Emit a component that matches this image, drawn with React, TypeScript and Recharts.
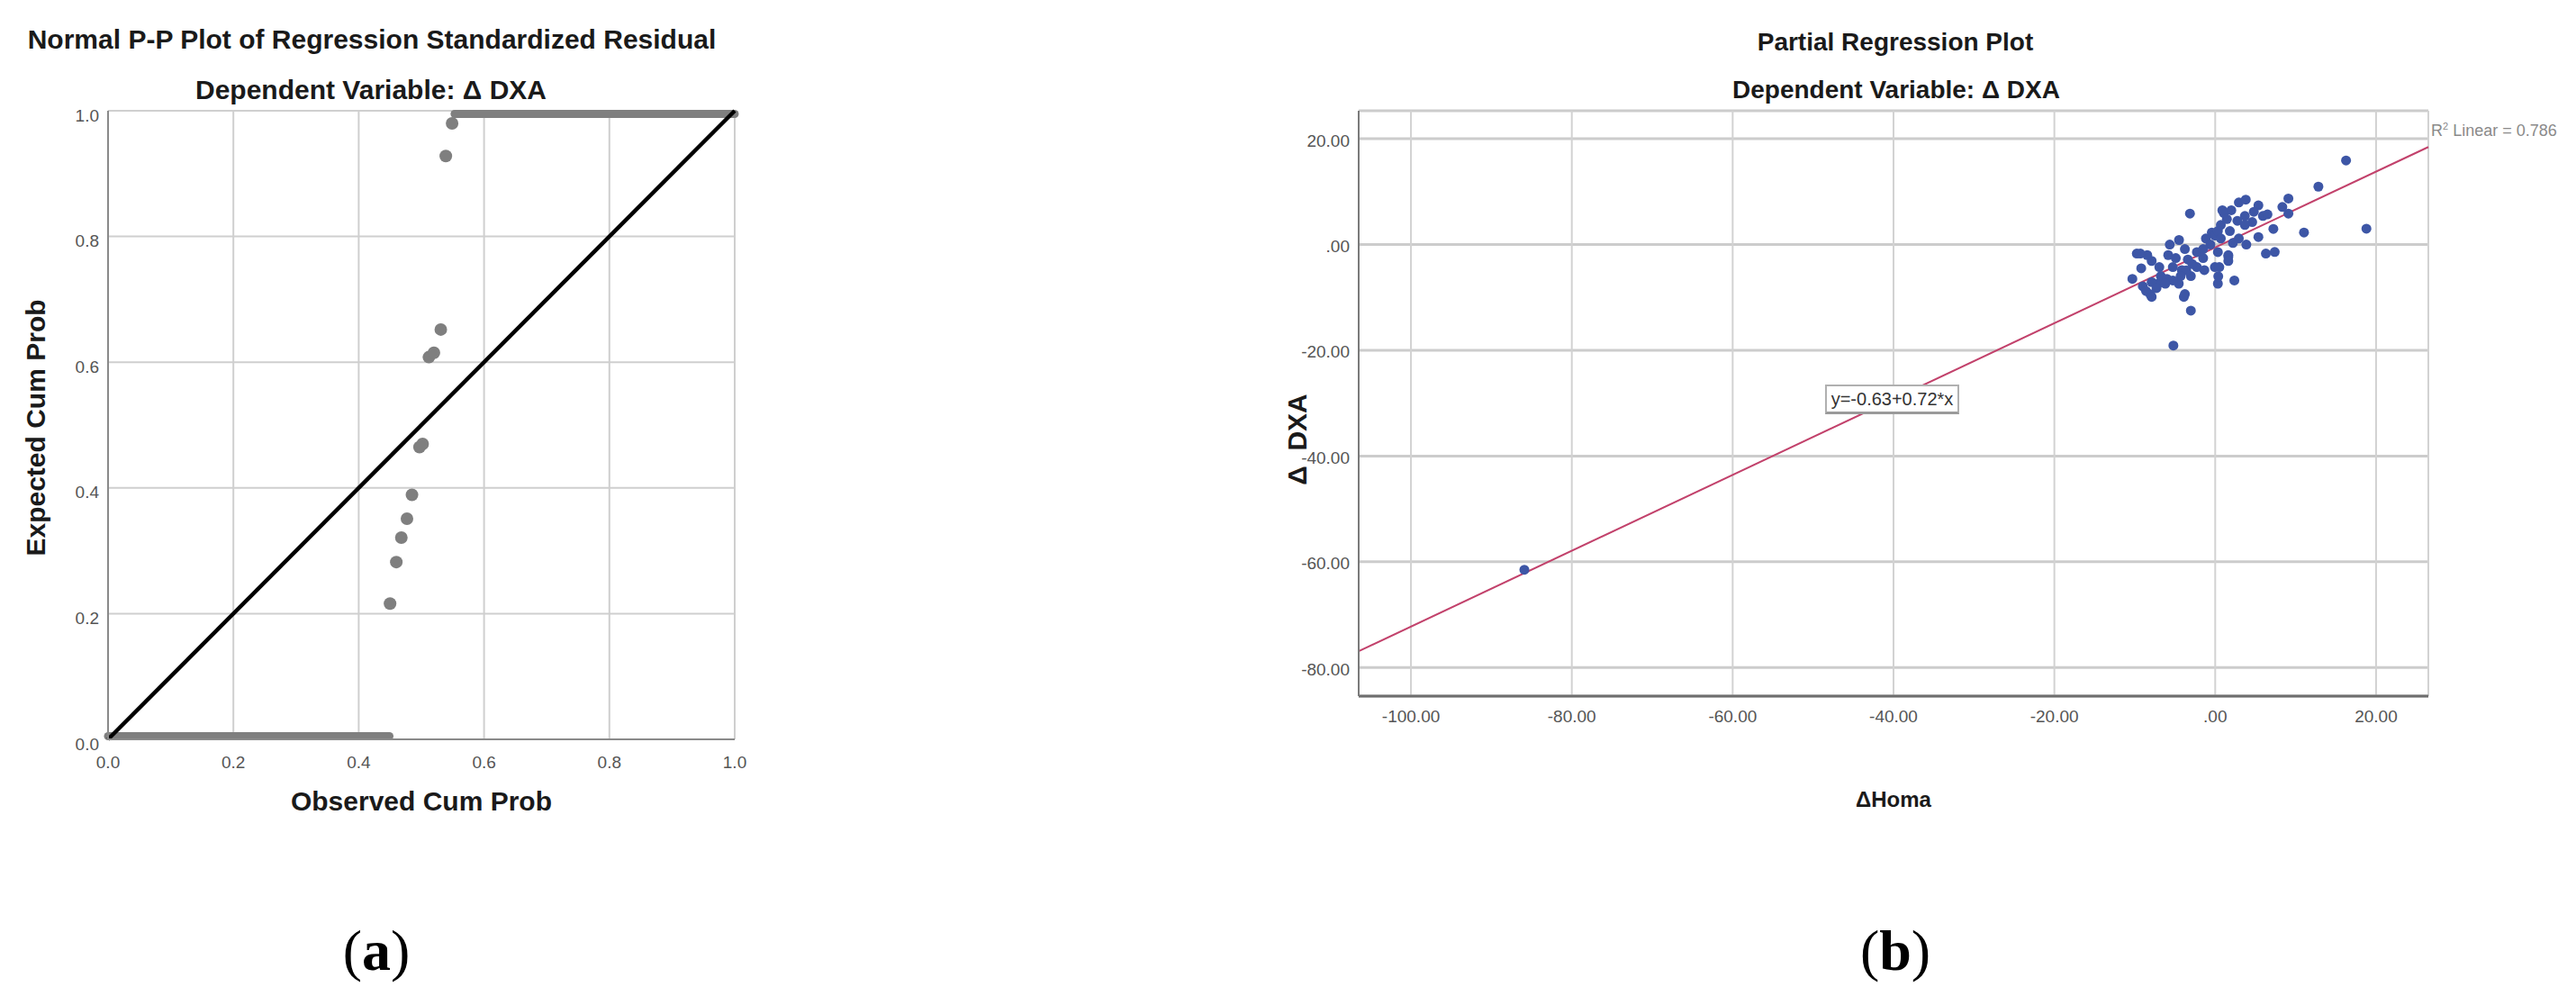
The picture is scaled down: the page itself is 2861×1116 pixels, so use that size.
import React from 'react';
import { CartesianGrid, ComposedChart, ReferenceLine, Scatter, XAxis, YAxis } from 'recharts';

const SANS = '"Liberation Sans", Arial, sans-serif';
const SERIF = '"Liberation Serif", "Times New Roman", serif';

// (a) Normal P-P plot: observed vs expected cumulative probability
const ppTicks = [0, 0.2, 0.4, 0.6, 0.8, 1.0];
const ppObserved = [0.45, 0.46, 0.468, 0.477, 0.485, 0.497, 0.502, 0.512, 0.52, 0.531, 0.539, 0.549];
const ppExpected = [0.216, 0.282, 0.321, 0.351, 0.389, 0.465, 0.47, 0.608, 0.615, 0.652, 0.928, 0.98];
// densely overlapping points that read as a thick band along 0 and 1
const bandLowObserved = [0, 0.449];
const bandLowExpected = [0.005, 0.005];
const bandHighObserved = [0.553, 1.0];
const bandHighExpected = [0.995, 0.995];

// (b) Partial regression plot: ΔHoma vs Δ DXA
const homaTicks = [-100, -80, -60, -40, -20, 0, 20];
const dxaTicks = [-80, -60, -40, -20, 0, 20];
const homaChange = [
  -85.9, -5.2, -3.14, -9.75, -8.45, -7.9, -9.2, -10.3, -9.0, -8.07, -7.1, -5.65, -4.5, -3.77, -5.84,
  -4.9, -3.4, -2.28, -3.03, -4.53, -3.77, -3.03, -6.76, -1.16, -0.42, 0.33, -0.04, 0.33, 1.63, 2.38,
  -1.5, -2.28, -5.27, -6.0, -7.9, -1.35, -4.15, -6.95, 1.08, 2.0, 2.94, 2.76, 2.94, 1.82, 0.7, -0.04,
  -0.6, -1.5, -2.84, -3.6, -4.3, -5.27, -6.2, -7.3, -8.6, 16.27, 12.83, 18.8, 11.04, 9.1, 8.35, 9.1,
  7.23, 6.3, 7.4, 3.8, 5.37, 5.93, 0.89, 1.45, 3.69, 4.6, 0.33, 3.69, 5.37, 3.87, 2.2, 0.7, 1.63,
  1.63, 0.51, 4.8, 6.5, -7.9, -3.9, 0.38, -9.3,
];
const dxaChange = [
  -61.5, -19.1, 5.85, -1.71, -1.99, -3.1, -4.5, -6.5, -7.9, -9.4, -7.4, 0, 0.86, -0.86, -1.99,
  -2.56, -2.83, -4.26, -5.97, -7.4, -9.37, -12.5, -5.97, 1.14, 2.27, -1.42, -4.26, -7.4, -2.3, -6.8,
  -2.56, -1.42, -4.26, -6.5, -7.1, -4.83, -4.83, -4.26, 5.97, 6.5, 7.96, 4.5, 1.14, 2.56, 3.7, 1.7,
  0, -0.86, -3.7, -4.9, -5.97, -6.8, -7.4, -8.23, -8.8, 15.9, 10.95, 3.0, 2.28, 8.7, 7.1, 5.85,
  2.96, -1.7, -1.4, 8.5, 7.4, 5.4, 6.5, 4.8, 5.4, 4.26, 2.56, 3.7, 1.42, 0, 0.3, 1.14, -2.0,
  -3.1, -4.26, 6.2, 5.7, -9.9, -9.9, -6.0, -1.7,
];
// fitted line as drawn, from the left to the right edge of the plot
const fitHoma = [-106.5, 26.5];
const fitDxa = [-76.9, 18.45];

const ppPoints = ppObserved.map((x, i) => ({ x, y: ppExpected[i] }));
const regPoints = homaChange.map((x, i) => ({ x, y: dxaChange[i] }));
const seg = (xs: number[], ys: number[]) => xs.map((x, i) => ({ x, y: ys[i] }));

const leftTick = (fmt: (v: number) => string, gap: number, dy: number) => (props: any) => (
  <text
    x={props.x - gap}
    y={props.y + dy}
    textAnchor="end"
    dominantBaseline="central"
    fontSize={19}
    fill="#555"
    fontFamily={SANS}
  >
    {fmt(props.payload.value)}
  </text>
);

const bottomTick = (fmt: (v: number) => string, dy: number) => (props: any) => (
  <text
    x={props.x}
    y={props.y + dy}
    textAnchor="middle"
    dominantBaseline="central"
    fontSize={19}
    fill="#555"
    fontFamily={SANS}
  >
    {fmt(props.payload.value)}
  </text>
);

const fmtProb = (v: number) => v.toFixed(1);
const fmtSpss = (v: number) => (v === 0 ? '.00' : v.toFixed(2));

function Caption({ cx, cy, size, bold, children }: any) {
  return (
    <div
      style={{
        position: 'absolute',
        left: cx - 500,
        top: cy - size * 0.6,
        width: 1000,
        height: size * 1.2,
        lineHeight: `${size * 1.2}px`,
        textAlign: 'center',
        fontFamily: SANS,
        fontWeight: bold ? 700 : 400,
        fontSize: size,
        color: '#1a1a1a',
        whiteSpace: 'nowrap',
      }}
    >
      {children}
    </div>
  );
}

function VLabel({ cx, cy, size, children }: any) {
  return (
    <div
      style={{
        position: 'absolute',
        left: cx - 300,
        top: cy - size * 0.6,
        width: 600,
        height: size * 1.2,
        lineHeight: `${size * 1.2}px`,
        textAlign: 'center',
        fontFamily: SANS,
        fontWeight: 700,
        fontSize: size,
        color: '#1a1a1a',
        whiteSpace: 'pre',
        transform: 'rotate(-90deg)',
      }}
    >
      {children}
    </div>
  );
}

function PPPlot() {
  return (
    <ComposedChart
      width={900}
      height={1000}
      margin={{ top: 123, right: 84, bottom: 139, left: 60 }}
      style={{ position: 'absolute', left: 0, top: 0 }}
    >
      <CartesianGrid stroke="#cfcfcf" strokeWidth={2} />
      <XAxis
        type="number"
        dataKey="x"
        domain={[0, 1]}
        ticks={ppTicks}
        height={40}
        tickSize={0}
        tickMargin={0}
        tickLine={false}
        axisLine={{ stroke: '#8a8a8a', strokeWidth: 2 }}
        tick={bottomTick(fmtProb, 25)}
        allowDataOverflow
      />
      <YAxis
        type="number"
        dataKey="y"
        domain={[0, 1]}
        ticks={ppTicks}
        width={60}
        tickSize={0}
        tickMargin={0}
        tickLine={false}
        axisLine={{ stroke: '#8a8a8a', strokeWidth: 2 }}
        tick={leftTick(fmtProb, 10, 5)}
        allowDataOverflow
      />
      <ReferenceLine
        segment={seg(bandLowObserved, bandLowExpected)}
        stroke="#7f7f7f"
        strokeWidth={9}
        strokeLinecap="round"
      />
      <ReferenceLine
        segment={seg(bandHighObserved, bandHighExpected)}
        stroke="#7f7f7f"
        strokeWidth={9}
        strokeLinecap="round"
      />
      <Scatter
        data={ppPoints}
        isAnimationActive={false}
        shape={(p: any) => <circle cx={p.cx} cy={p.cy} r={7} fill="#7f7f7f" />}
      />
      <ReferenceLine
        segment={[
          { x: 0, y: 0 },
          { x: 1, y: 1 },
        ]}
        stroke="#000"
        strokeWidth={4.5}
      />
    </ComposedChart>
  );
}

function RegressionPlot() {
  return (
    <ComposedChart
      width={1461}
      height={1000}
      margin={{ top: 123, right: 164, bottom: 187, left: 49 }}
      style={{ position: 'absolute', left: 1400, top: 0 }}
    >
      <CartesianGrid stroke="#cccccc" strokeWidth={3} vertical={false} />
      <CartesianGrid stroke="#d2d2d2" strokeWidth={2} horizontal={false} />
      <XAxis
        type="number"
        dataKey="x"
        domain={[-106.5, 26.5]}
        ticks={homaTicks}
        height={40}
        tickSize={0}
        tickMargin={0}
        tickLine={false}
        axisLine={{ stroke: '#6e6e6e', strokeWidth: 3 }}
        tick={bottomTick(fmtSpss, 22)}
        allowDataOverflow
      />
      <YAxis
        type="number"
        dataKey="y"
        domain={[-85.4, 25.3]}
        ticks={dxaTicks}
        width={60}
        tickSize={0}
        tickMargin={0}
        tickLine={false}
        axisLine={{ stroke: '#7a7a7a', strokeWidth: 2 }}
        tick={leftTick(fmtSpss, 10, 2)}
        allowDataOverflow
      />
      <ReferenceLine segment={seg(fitHoma, fitDxa)} stroke="#c2416b" strokeWidth={2} />
      <Scatter
        data={regPoints}
        isAnimationActive={false}
        shape={(p: any) => <circle cx={p.cx} cy={p.cy} r={5.5} fill="#3d56a6" />}
      />
    </ComposedChart>
  );
}

export default function App() {
  return (
    <div
      style={{
        position: 'absolute',
        left: 0,
        top: 0,
        width: 2861,
        height: 1116,
        background: '#fff',
        overflow: 'hidden',
      }}
    >
      <PPPlot />
      <RegressionPlot />

      <Caption cx={413} cy={44} size={30} bold>
        Normal P-P Plot of Regression Standardized Residual
      </Caption>
      <Caption cx={412} cy={100} size={30} bold>
        Dependent Variable: Δ  DXA
      </Caption>
      <VLabel cx={40} cy={475} size={30}>
        Expected Cum Prob
      </VLabel>
      <Caption cx={468} cy={890} size={30} bold>
        Observed Cum Prob
      </Caption>

      <Caption cx={2105} cy={47} size={28} bold>
        Partial Regression Plot
      </Caption>
      <Caption cx={2106} cy={100} size={28} bold>
        Dependent Variable: Δ  DXA
      </Caption>
      <VLabel cx={1441} cy={488} size={30}>
        {'Δ  DXA'}
      </VLabel>
      <Caption cx={2103} cy={888} size={24} bold>
        ΔHoma
      </Caption>

      <div
        style={{
          position: 'absolute',
          left: 2700,
          top: 128,
          fontFamily: SANS,
          fontSize: 18,
          color: '#8a8a8a',
          whiteSpace: 'nowrap',
          lineHeight: '24px',
        }}
      >
        R<sup style={{ fontSize: 11 }}>2</sup> Linear = 0.786
      </div>
      <div
        style={{
          position: 'absolute',
          left: 2027,
          top: 427,
          width: 149,
          height: 33,
          boxSizing: 'border-box',
          border: '2px solid #b0b0b0',
          borderBottom: '3px solid #9a9a9a',
          background: '#fff',
          fontFamily: SANS,
          fontSize: 20,
          lineHeight: '29px',
          textAlign: 'center',
          color: '#333',
          whiteSpace: 'nowrap',
        }}
      >
        y=-0.63+0.72*x
      </div>

      <div
        style={{
          position: 'absolute',
          left: 318,
          top: 1016,
          width: 200,
          textAlign: 'center',
          fontFamily: SERIF,
          fontSize: 64,
          lineHeight: '80px',
          color: '#000',
        }}
      >
        (<b>a</b>)
      </div>
      <div
        style={{
          position: 'absolute',
          left: 2005,
          top: 1016,
          width: 200,
          textAlign: 'center',
          fontFamily: SERIF,
          fontSize: 64,
          lineHeight: '80px',
          color: '#000',
        }}
      >
        (<b>b</b>)
      </div>
    </div>
  );
}
